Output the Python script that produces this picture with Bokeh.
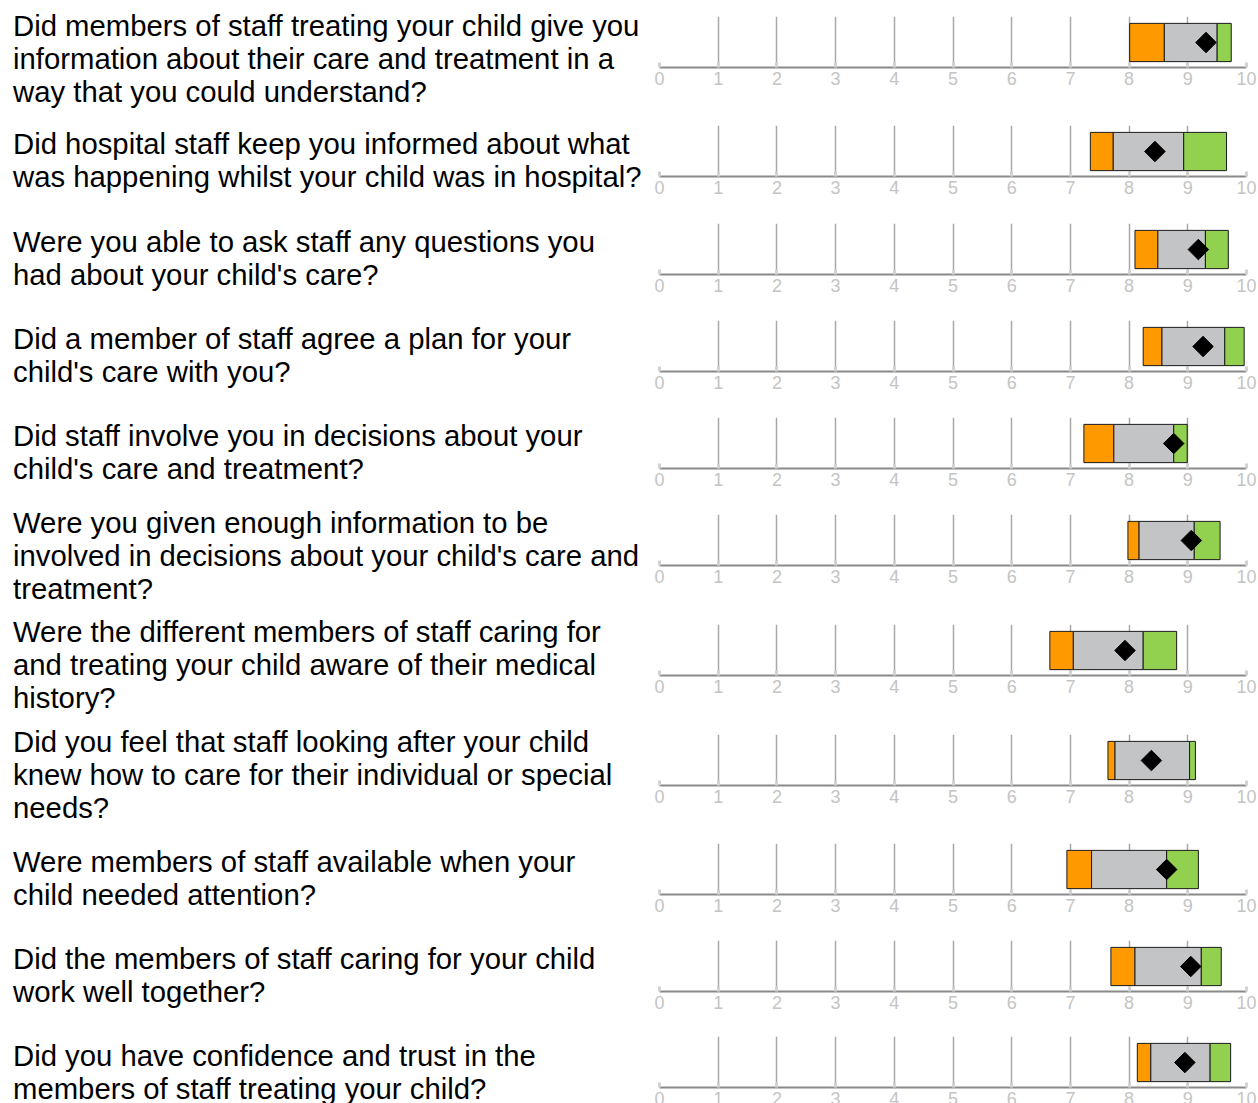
from bokeh.plotting import figure
from bokeh.layouts import column, row
from bokeh.models import Div, Range1d, ColumnDataSource, FixedTicker
from bokeh.embed import file_html
from bokeh.resources import INLINE

# ---------------- data ----------------
questions = [
    "Did members of staff treating your child give you\ninformation about their care and treatment in a\nway that you could understand?",
    "Did hospital staff keep you informed about what\nwas happening whilst your child was in hospital?",
    "Were you able to ask staff any questions you\nhad about your child's care?",
    "Did a member of staff agree a plan for your\nchild's care with you?",
    "Did staff involve you in decisions about your\nchild's care and treatment?",
    "Were you given enough information to be\ninvolved in decisions about your child's care and\ntreatment?",
    "Were the different members of staff caring for\nand treating your child aware of their medical\nhistory?",
    "Did you feel that staff looking after your child\nknew how to care for their individual or special\nneeds?",
    "Were members of staff available when your\nchild needed attention?",
    "Did the members of staff caring for your child\nwork well together?",
    "Did you have confidence and trust in the\nmembers of staff treating your child?",
]
orange_start = [8.01, 7.34, 8.10, 8.24, 7.23, 7.98, 6.65, 7.64, 6.94, 7.69, 8.14]
grey_start   = [8.60, 7.73, 8.49, 8.56, 7.74, 8.17, 7.05, 7.76, 7.36, 8.10, 8.37]
green_start  = [9.50, 8.93, 9.30, 9.63, 8.76, 9.11, 8.24, 9.03, 8.64, 9.23, 9.38]
green_end    = [9.74, 9.66, 9.69, 9.96, 8.99, 9.55, 8.81, 9.13, 9.18, 9.57, 9.73]
score        = [9.31, 8.44, 9.18, 9.26, 8.76, 9.06, 7.93, 8.38, 8.64, 9.05, 8.95]
tick_values  = [0, 1, 2, 3, 4, 5, 6, 7, 8, 9, 10]

# ---------------- layout constants (page pixels) ----------------
PAGE_H = 1103
axis_y   = [67, 176, 274, 371, 468, 565, 675, 785, 894, 991, 1087]
text_top = [9, 127, 225, 322, 419, 506, 615, 725, 845, 942, 1039]
FRAME_H = 51
row_top = [0] + [a - 60 for a in axis_y[1:]]
row_h = [row_top[i + 1] - row_top[i] for i in range(len(row_top) - 1)] + [PAGE_H - row_top[-1]]

ORANGE = "#FF9900"
GREY = "#C3C4C6"
GREEN = "#92D050"
OUTLINE = "#1a1a1a"

rows = []
for i, q in enumerate(questions):
    t_off = text_top[i] - row_top[i]
    html = (
        f'<div style="margin-top:{t_off}px;padding-left:13px;'
        "font-family:'Liberation Sans',Arial,sans-serif;font-size:29.3px;"
        'line-height:33px;color:#000000;white-space:nowrap">'
        + q.replace("\n", "<br>") + "</div>"
    )
    div = Div(text=html, width=649, height=row_h[i], margin=0)

    mt = axis_y[i] - FRAME_H - row_top[i]
    mb = row_h[i] - (axis_y[i] - row_top[i])
    p = figure(
        frame_width=587, frame_height=FRAME_H,
        min_border_left=10, min_border_right=11,
        min_border_top=mt, min_border_bottom=max(mb, 26),
        x_range=Range1d(0, 10), y_range=Range1d(0, 1),
        toolbar_location=None, output_backend="svg",
        y_axis_location=None,
    )
    p.outline_line_color = None
    p.ygrid.visible = False

    src = ColumnDataSource(dict(
        y=[0.49], o0=[orange_start[i]], g0=[grey_start[i]],
        n0=[green_start[i]], n1=[green_end[i]], s=[score[i]],
    ))
    p.hbar(y="y", height=0.75, left="o0", right="g0", source=src,
           fill_color=ORANGE, line_color=OUTLINE, line_width=1)
    p.hbar(y="y", height=0.75, left="g0", right="n0", source=src,
           fill_color=GREY, line_color=OUTLINE, line_width=1)
    p.hbar(y="y", height=0.75, left="n0", right="n1", source=src,
           fill_color=GREEN, line_color=OUTLINE, line_width=1)
    p.scatter(x="s", y="y", source=src, marker="square", size=14.5,
              angle=0.7854, fill_color="black", line_color="black")

    ax = p.xaxis[0]
    ax.ticker = FixedTicker(ticks=tick_values)
    ax.axis_line_color = "#8a8a8a"
    ax.axis_line_width = 2
    ax.major_tick_in = 5
    ax.major_tick_out = 0
    ax.major_tick_line_color = "#d2d2d2"
    ax.major_tick_line_width = 3
    ax.minor_tick_line_color = None
    ax.major_label_standoff = 4
    ax.major_label_text_font = "Liberation Sans"
    ax.major_label_text_font_size = "18px"
    ax.major_label_text_color = "#c4c4c4"
    p.xgrid.grid_line_color = "#a8a8a8"
    p.xgrid.grid_line_width = 1.5

    rows.append(row(div, p, spacing=0))

layout = column(*rows, spacing=0, height=PAGE_H, width=1258,
                styles={"overflow": "hidden"})

open("out.html", "w").write(file_html(layout, INLINE))
